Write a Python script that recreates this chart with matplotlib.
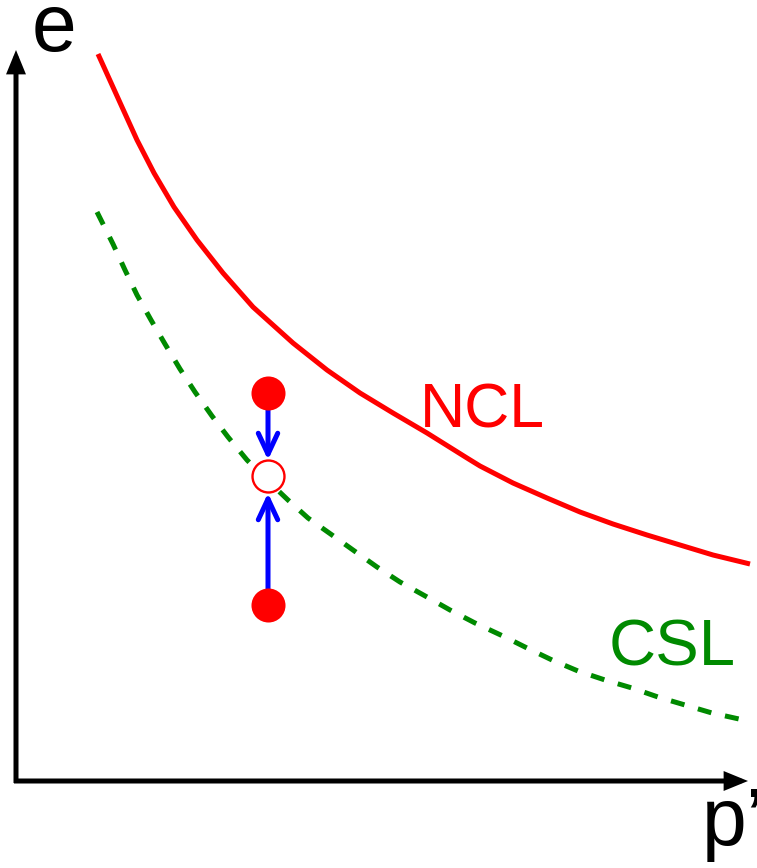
import matplotlib
matplotlib.use("Agg")
import matplotlib.pyplot as plt
from matplotlib.patches import FancyArrowPatch

plt.rcParams['font.family'] = ['Liberation Sans', 'DejaVu Sans']

# Normal compression line (p', e) in canvas units
ncl_p = [98, 122, 137, 154, 174, 197, 223, 253, 293, 327, 360, 393, 427,
         467, 480, 513, 547, 580, 613, 647, 680, 713, 750]
ncl_e = [54, 107, 140, 173, 207, 240, 273, 307, 343, 370, 393, 413, 433,
         458, 466, 483, 498, 512, 524, 535, 545, 555, 564]

# Critical state line
csl_p = [97, 113, 125, 137, 151, 165, 180, 195, 212, 228, 247, 267, 288,
         308, 332, 353, 377, 400, 427, 450, 475, 505, 527, 552, 578, 605,
         632, 658, 685, 712, 748]
csl_e = [212, 244, 270, 295, 320, 344, 369, 392, 416, 437, 460, 480, 500,
         518, 535, 550, 567, 582, 597, 610, 623, 637, 648, 660, 671, 680,
         688, 697, 705, 713, 721]

# Initial states (loose and dense) and the critical state they reach
start_p = [268, 268]
start_e = [393, 605]
crit_p = 268
crit_e = 476

W, H = 757, 868
fig = plt.figure(figsize=(W / 100, H / 100), dpi=100)
ax = fig.add_axes([0, 0, 1, 1])
ax.set_xlim(0, W)
ax.set_ylim(H, 0)
ax.axis('off')

RED = '#ff0000'
GREEN = '#008a00'
BLUE = '#0000ff'

# Axes with arrowheads
head = '-|>,head_length=11,head_width=4.5'
ax.add_patch(FancyArrowPatch((16, 783), (16, 50), arrowstyle=head,
                             mutation_scale=1, lw=3.6, color='black',
                             shrinkA=0, shrinkB=0, capstyle='butt', joinstyle='miter'))
ax.add_patch(FancyArrowPatch((14, 781), (748, 781), arrowstyle=head,
                             mutation_scale=1, lw=3.6, color='black',
                             shrinkA=0, shrinkB=0, capstyle='butt', joinstyle='miter'))

# Curves
ax.plot(ncl_p, ncl_e, color=RED, lw=3.6, solid_capstyle='butt',
        solid_joinstyle='round')
ax.plot(csl_p, csl_e, color=GREEN, lw=3.6, dashes=(2.8, 2.8),
        dash_capstyle='butt')

# Paths to critical state
for p0, e0 in zip(start_p, start_e):
    tip = crit_e - 16 if e0 < crit_e else crit_e + 17
    ax.add_patch(FancyArrowPatch((p0, e0), (crit_p, tip),
                                 arrowstyle='->,head_length=15,head_width=7',
                                 mutation_scale=1, lw=3.6, color=BLUE,
                                 shrinkA=0, shrinkB=0, zorder=3))

ax.plot(start_p, start_e, 'o', color=RED, ms=24.5, mec='none', zorder=4)
ax.plot([crit_p], [crit_e], 'o', mfc='white', mec=RED, ms=23, mew=1.7,
        zorder=4)

# Labels
ax.text(420, 427, 'NCL', color=RED, fontsize=45, ha='left', va='baseline')
ax.text(609, 665, 'CSL', color=GREEN, fontsize=47, ha='left', va='baseline')
ax.text(32, 51, 'e', color='black', fontsize=58, ha='left', va='baseline')
ax.text(702, 845, "p’", color='black', fontsize=58, ha='left', va='baseline')

fig.savefig('out.png', dpi=100, facecolor='white')
